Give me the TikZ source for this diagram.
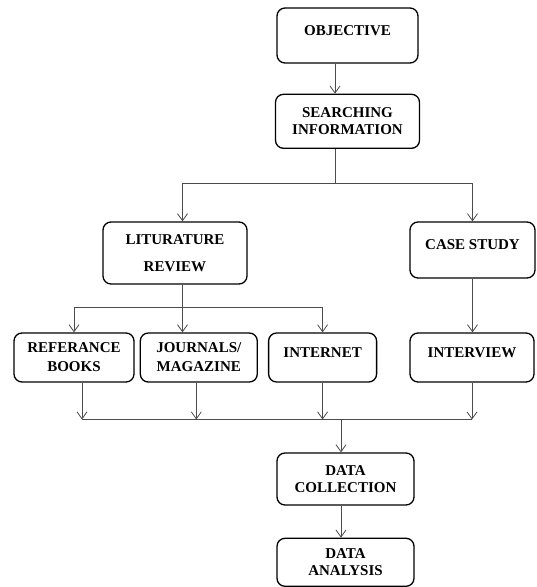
\documentclass[tikz,border=0pt]{standalone}
\usepackage{fontspec}
\setmainfont{Liberation Serif}
\usetikzlibrary{arrows.meta,positioning,calc}

\begin{document}
\begin{tikzpicture}[
  x=1pt, y=1pt,
  font=\fontsize{15}{17}\selectfont\bfseries,
  box/.style    ={draw, line width=1.3pt, rounded corners=8pt, align=center, inner sep=2pt},
  oneline/.style={text depth=10pt},
  arr/.style    ={-{Straight Barb[length=7pt,width=10pt]}, line width=0.8pt, black!70},
  ln/.style     ={line width=0.8pt, black!70},
  node distance=30pt and 5pt
]
\useasboundingbox (0,0) rectangle (537,-587);
\node[box, oneline, minimum width=141pt, minimum height=55pt] (obj) at (347.5,-35.5) {OBJECTIVE};
\node[box, below=30pt of obj, minimum width=144pt, minimum height=54pt] (search) {SEARCHING\\INFORMATION};
\node[box, minimum width=144pt, minimum height=62pt] (lit) at (175,-253) {LITURATURE\\[10pt]REVIEW};
\node[box, oneline, minimum width=125pt, minimum height=56pt] (case) at (472.5,-250) {CASE STUDY};
\node[box, minimum width=120pt, minimum height=49pt] (ref) at (74,-357.5) {REFERANCE\\[2pt]BOOKS};
\node[box, right=5pt of ref, minimum width=117pt, minimum height=49pt] (jour) {JOURNALS/\\[2pt]MAGAZINE};
\node[box, oneline, right=10pt of jour, minimum width=108pt, minimum height=49pt] (inet) {INTERNET};
\node[box, oneline, minimum width=124pt, minimum height=49pt] (intv) at (472,-357.5) {INTERVIEW};
\node[box, minimum width=137pt, minimum height=52pt] (dcol) at (345.5,-479) {DATA\\COLLECTION};
\node[box, below=32pt of dcol, minimum width=137pt, minimum height=48pt] (dana) {DATA\\ANALYSIS};
% forks
\coordinate (f1) at (335,-183.5);
\coordinate (f2) at (182.5,-307);
\coordinate (f3) at (341,-419.5);
\coordinate (r1) at ([xshift=8pt]ref.south);
\coordinate (j1) at ([xshift=-2.5pt]jour.south);
\draw[arr] (f1 |- obj.south) -- (f1 |- search.north);
\draw[ln] (f1 |- search.south) -- (f1);
\draw[arr] (f1) -| (f2 |- lit.north);
\draw[arr] (f1) -| (case.north);
\draw[ln] (f2 |- lit.south) -- (f2);
\draw[arr] (f2) -| (ref.north);
\draw[arr] (f2) -- (f2 |- jour.north);
\draw[arr] (f2) -| (inet.north);
\draw[arr] (case.south) -- (case.south |- intv.north);
\draw[arr] (r1) -- (r1 |- f3);
\draw[arr] (j1) -- (j1 |- f3);
\draw[arr] (inet.south) -- (inet.south |- f3);
\draw[arr] (intv.south) -- (intv.south |- f3);
\draw[ln] (r1 |- f3) -- (intv.south |- f3);
\draw[arr] (f3) -- (f3 |- dcol.north);
\draw[arr] (f3 |- dcol.south) -- (f3 |- dana.north);
\end{tikzpicture}
\end{document}
